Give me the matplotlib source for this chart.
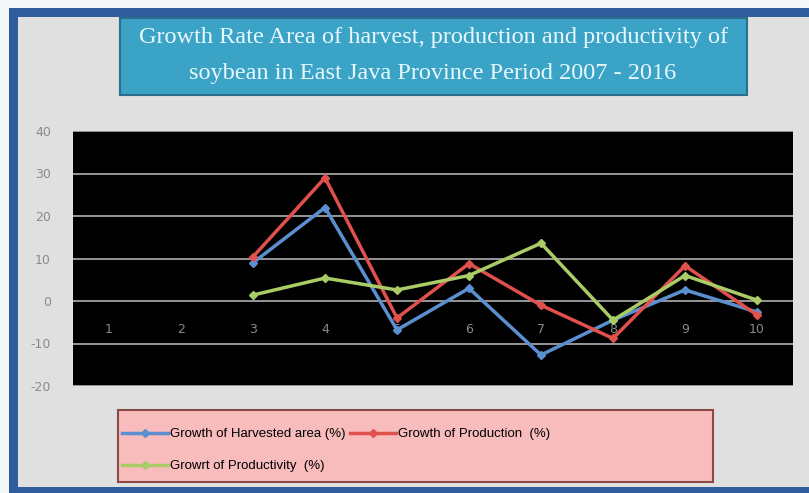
import numpy as np
import matplotlib.pyplot as plt
from matplotlib.patches import Rectangle
from matplotlib.lines import Line2D

# data (% growth per period index)
categories = [1, 2, 3, 4, 5, 6, 7, 8, 9, 10]
harvested = [np.nan, np.nan, 9.0, 22.0, -6.8, 3.0, -12.7, -4.5, 2.6, -2.6]
production = [np.nan, np.nan, 10.4, 29.0, -4.0, 8.8, -1.0, -8.8, 8.3, -3.3]
productivity = [np.nan, np.nan, 1.4, 5.4, 2.6, 6.0, 13.6, -4.5, 6.0, 0.2]
yticks = [-20, -10, 0, 10, 20, 30, 40]

title_lines = ["Growth Rate Area of harvest, production and productivity of",
               "soybean in East Java Province Period 2007 - 2016"]
labels = ["Growth of Harvested area (%)", "Growth of Production  (%)",
          "Growrt of Productivity  (%)"]
colors = ["#5b8fd0", "#e0504d", "#a9cc66"]

W, H = 809, 493
fig = plt.figure(figsize=(W / 100, H / 100), dpi=100)
fig.patch.set_facecolor("#f4f8fb")

def box(x0, y0, x1, y1, **kw):
    # rectangle given in pixel coords from top-left
    r = Rectangle((x0 / W, 1 - y1 / H), (x1 - x0) / W, (y1 - y0) / H,
                  transform=fig.transFigure, **kw)
    fig.add_artist(r)
    return r

# marble-ish background and blue frame
box(9, 8, 809, 493, facecolor="#2f5d9b", edgecolor="none", zorder=0)
box(18, 17, 809, 487, facecolor="#e0e0e0", edgecolor="none", zorder=0)

# title box
box(120, 18, 747, 95, facecolor="#3aa3c6", edgecolor="#2b6f8c", linewidth=1.5, zorder=1)
fig.text(434 / W, 1 - 37 / H, title_lines[0], ha="center", va="center",
         family="Liberation Serif", fontsize=17.5, color="#e8f8ff", zorder=2)
fig.text(433 / W, 1 - 73 / H, title_lines[1], ha="center", va="center",
         family="Liberation Serif", fontsize=17.5, color="#e8f8ff", zorder=2)

# plot area
ax = fig.add_axes([73 / W, 1 - 386 / H, 720 / W, 255 / H])
ax.set_facecolor("black")
ax.set_xlim(0.5, 10.5)
ax.set_ylim(-20, 40)
ax.set_yticks(yticks)
ax.set_yticklabels([str(t) for t in yticks])
ax.grid(axis="y", color="#b0b0b0", linewidth=1.2)
ax.set_axisbelow(True)
for s in ["top", "right", "left"]:
    ax.spines[s].set_visible(False)
ax.spines["bottom"].set_position(("data", 0))
ax.spines["bottom"].set_visible(False)
ax.set_xticks(categories)
ax.set_xticklabels([str(c) for c in categories])
ax.tick_params(axis="x", length=0, pad=16, labelsize=9, labelcolor="#8a8a8a")
ax.tick_params(axis="y", length=0, pad=16, labelsize=9, labelcolor="#8a8a8a")

series = [harvested, production, productivity]
for vals, c in zip(series, colors):
    ax.plot(categories, vals, color=c, linewidth=2.5, marker="D",
            markersize=4, zorder=3)

# legend box
box(118, 410, 713, 482, facecolor="#f9bcbc", edgecolor="#8b4a4a", linewidth=1.5, zorder=1)
handles = [Line2D([], [], color=c, linewidth=2.5, marker="D", markersize=4) for c in colors]
order = [0, 2, 1]
fig.legend([handles[i] for i in order], [labels[i] for i in order],
           loc="upper left", bbox_to_anchor=(122 / W, 1 - 428 / H), ncol=2,
           frameon=False, handlelength=3.5, handletextpad=0.1, columnspacing=0.4,
           labelspacing=1.5, borderaxespad=0, borderpad=0,
           prop={"family": "Liberation Sans", "size": 9.5})

fig.savefig("out.png", dpi=100, facecolor=fig.get_facecolor())
